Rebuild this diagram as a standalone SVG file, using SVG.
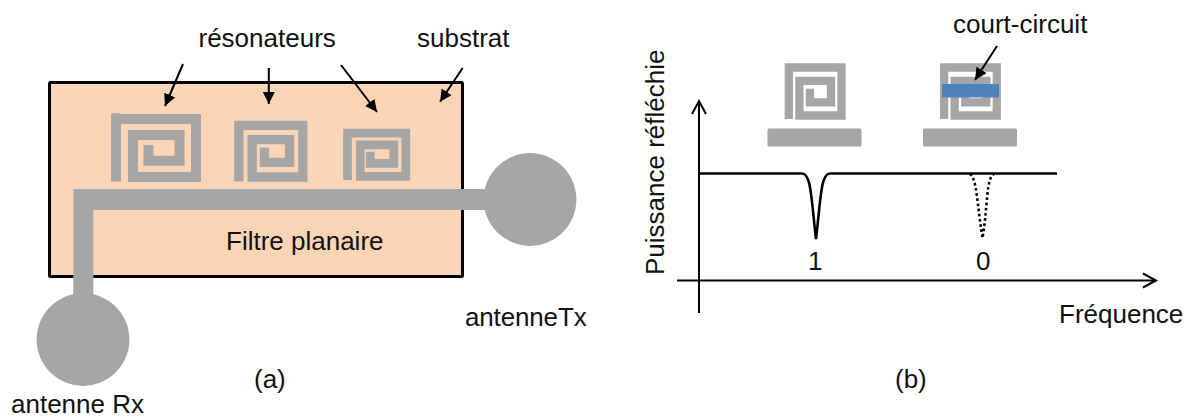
<svg xmlns="http://www.w3.org/2000/svg" width="1189" height="419" viewBox="0 0 1189 419">
<style>
text{font-family:"Liberation Sans",Arial,sans-serif;font-size:26px;fill:#111}
.sp{fill:none;stroke:#a6a6a6;stroke-linejoin:miter}
.g{fill:#a6a6a6}
.ln{fill:none;stroke:#000;stroke-width:2}
</style>
<defs>
<marker id="ah" markerUnits="userSpaceOnUse" markerWidth="14" markerHeight="14" refX="12" refY="6" orient="auto"><path d="M0 0L12 6L0 12Z" fill="#000"/></marker>
<marker id="oh" markerUnits="userSpaceOnUse" markerWidth="18" markerHeight="20" refX="15" refY="9" orient="auto"><path d="M2 2L15 9L2 16" fill="none" stroke="#000" stroke-width="2"/></marker>
<path id="sb" class="sp" stroke-width="8.3" d="M788.8 119V67.5H841.5V115.5H799.4V80.8H831V102.4H810V88.7"/>
</defs>
<g id="substrat-plate"><rect x="49.5" y="82.5" width="413" height="194" rx="1" fill="#fbd5b5" stroke="#000" stroke-width="3"/></g>
<g id="resonator-1"><path class="sp" stroke-width="10" d="M116 181.5V119H196V177H133V135H179.5V160.7H148.5V145"/><rect class="g" x="111" y="113.3" width="10" height="6" rx="1"/></g>
<g id="resonator-2"><path class="sp" stroke-width="9.3" d="M238.8 181.5V125.3H302.8V177H252.2V139.7H289.6V162.3H264.5V147.5"/></g>
<g id="resonator-3"><path class="sp" stroke-width="8.7" d="M347.5 180V133.2H405.8V176.3H360.3V144.9H393.8V163.3H370.3V151.7"/></g>
<g id="feed-line"><path class="g" d="M73.3 189H490V210H93.3V300H73.3Z"/></g>
<g id="antenna-tx"><circle class="g" cx="530" cy="199.5" r="46.4"/></g>
<g id="antenna-rx"><circle class="g" cx="83" cy="339.5" r="46.4"/></g>
<g id="resonator-b1"><use href="#sb"/><rect class="g" x="767.5" y="128.5" width="94" height="18" rx="1.5"/></g>
<g id="resonator-b2"><use href="#sb" x="155.3"/><rect class="g" x="923" y="128.5" width="94" height="18" rx="1.5"/><rect x="942" y="84" width="57" height="13.5" fill="#4f81bd"/></g>
<g id="connectors">
<path class="ln" marker-end="url(#ah)" d="M183 64L165 106"/>
<path class="ln" marker-end="url(#ah)" d="M268.8 68V104"/>
<path class="ln" marker-end="url(#ah)" d="M341 65L377 112"/>
<path class="ln" marker-end="url(#ah)" d="M462.7 68L440 101.7"/>
<path class="ln" marker-end="url(#ah)" d="M997 46L975 80"/>
<path class="ln" marker-end="url(#oh)" d="M699 313V101"/>
<path class="ln" marker-end="url(#oh)" d="M677 280.5H1156"/>
<path fill="none" stroke="#000" stroke-width="2.6" d="M699 173.5H802C811 173.5 811 196 816 239C821 196 821 173.5 830 173.5H1057"/>
<path fill="none" stroke="#000" stroke-width="2.6" stroke-dasharray="2.6 2.6" d="M970 174C977 178 977 205 982.5 238C988 205 986 178 994 174"/>
</g>
<g id="labels">
<text x="198.5" y="46.5">résonateurs</text>
<text x="417" y="46.5">substrat</text>
<text x="226" y="250">Filtre planaire</text>
<text x="465" y="325.5" letter-spacing="-0.15">antenneTx</text>
<text x="11" y="413">antenne Rx</text>
<text x="254" y="388">(a)</text>
<text x="895" y="388">(b)</text>
<text x="1059" y="323">Fréquence</text>
<text x="953" y="33">court-circuit</text>
<text x="808" y="270">1</text>
<text x="976" y="270">0</text>
<text transform="translate(664 275) rotate(-90)">Puissance réfléchie</text>
</g>
</svg>
